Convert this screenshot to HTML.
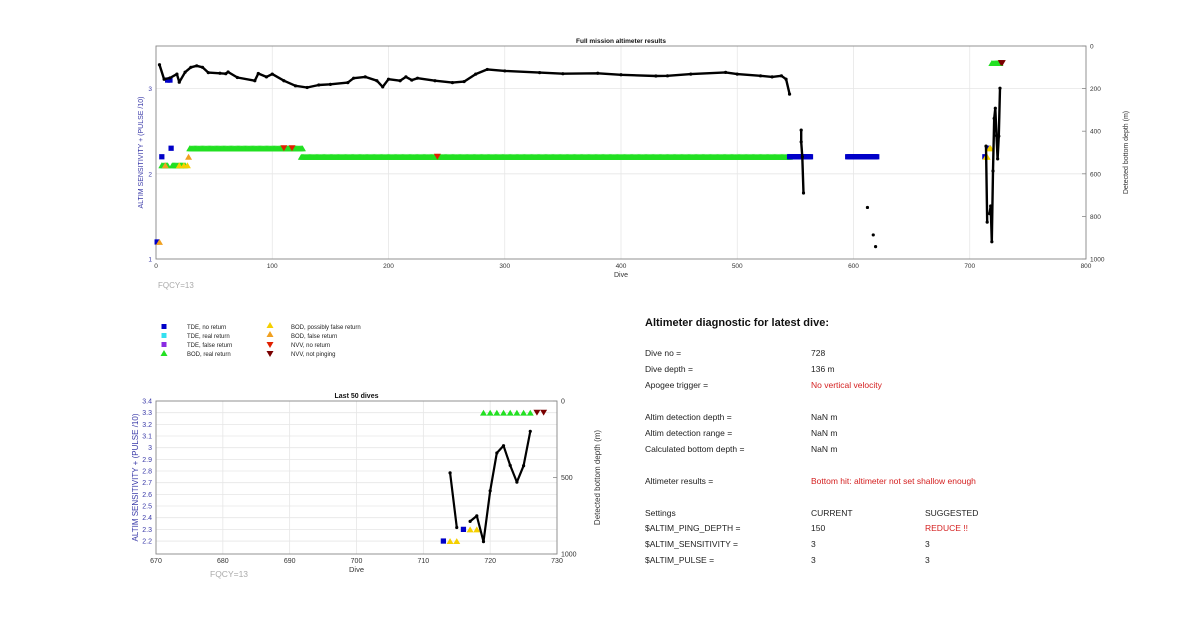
<!DOCTYPE html>
<html><head><meta charset="utf-8"><style>
html,body{margin:0;padding:0;background:#fff;}
svg{display:block;font-family:"Liberation Sans",Arial,sans-serif;}
.t{font-size:8.5px;fill:#222;}
.r{fill:#d42020;}
</style></head><body>
<svg id="fig" width="1200" height="622" viewBox="0 0 1200 622" xmlns="http://www.w3.org/2000/svg">
<g id="top"></g>
<g id="bot"></g>
<g font-size="6" fill="#222">
 <rect x="161.5" y="324" width="5" height="5" fill="#0000c8"/>
 <text x="187" y="329">TDE, no return</text>
 <rect x="161.5" y="333" width="5" height="5" fill="#33e0f0"/>
 <text x="187" y="338">TDE, real return</text>
 <rect x="161.5" y="342" width="5" height="5" fill="#8a2be2"/>
 <text x="187" y="347">TDE, false return</text>
 <polygon points="164,350 167.5,356 160.5,356" fill="#22e022"/>
 <text x="187" y="356">BOD, real return</text>
 <polygon points="270,322 273.5,328 266.5,328" fill="#f5d000"/>
 <text x="291" y="329">BOD, possibly false return</text>
 <polygon points="270,331 273.5,337 266.5,337" fill="#f0a020"/>
 <text x="291" y="338">BOD, false return</text>
 <polygon points="266.5,342 273.5,342 270,348" fill="#e02000"/>
 <text x="291" y="347">NVV, no return</text>
 <polygon points="266.5,351 273.5,351 270,357" fill="#7a0000"/>
 <text x="291" y="356">NVV, not pinging</text>
</g>
<g>
 <text x="645" y="326" font-size="11" font-weight="bold" fill="#111">Altimeter diagnostic for latest dive:</text>
 <text class="t" x="645" y="356">Dive no =</text><text class="t" x="811" y="356">728</text>
 <text class="t" x="645" y="372">Dive depth =</text><text class="t" x="811" y="372">136 m</text>
 <text class="t" x="645" y="388">Apogee trigger =</text><text class="t r" x="811" y="388">No vertical velocity</text>
 <text class="t" x="645" y="420">Altim detection depth =</text><text class="t" x="811" y="420">NaN m</text>
 <text class="t" x="645" y="436">Altim detection range =</text><text class="t" x="811" y="436">NaN m</text>
 <text class="t" x="645" y="452">Calculated bottom depth =</text><text class="t" x="811" y="452">NaN m</text>
 <text class="t" x="645" y="484">Altimeter results =</text><text class="t r" x="811" y="484">Bottom hit: altimeter not set shallow enough</text>
 <text class="t" x="645" y="516">Settings</text><text class="t" x="811" y="516">CURRENT</text><text class="t" x="925" y="516">SUGGESTED</text>
 <text class="t" x="645" y="531">$ALTIM_PING_DEPTH =</text><text class="t" x="811" y="531">150</text><text class="t r" x="925" y="531">REDUCE !!</text>
 <text class="t" x="645" y="547">$ALTIM_SENSITIVITY =</text><text class="t" x="811" y="547">3</text><text class="t" x="925" y="547">3</text>
 <text class="t" x="645" y="563">$ALTIM_PULSE =</text><text class="t" x="811" y="563">3</text><text class="t" x="925" y="563">3</text>
</g>
</svg>
<script>
// ---------- data ----------
const depthDives = [3,7,12,18,20,25,30,35,40,45,55,60,62,70,85,88,95,100,110,120,130,140,150,165,170,180,190,195,200,210,215,220,225,240,255,265,275,285,300,330,350,380,400,430,440,460,490,500,520,530,538,542,545];
const depthVals  = [88,156,150,132,170,123,100,93,100,125,128,130,122,148,163,129,145,132,163,187,195,183,180,172,151,145,163,192,156,163,145,160,151,163,172,167,132,110,117,125,130,128,135,141,140,132,124,132,140,145,140,156,226];
const seg2Dives = [555,555,556,557];
const seg2Vals  = [395,450,520,690];
const isoDives = [612,617,619];
const isoVals  = [758,887,942];
const lastDives = [714,715,716,717,718,719,720,721,722,723,724,725,726];
const lastDepth = [470,827,NaN,787,751,919,587,340,292,421,530,423,198];
const greenRuns = [[5,10,2.1],[14,25,2.1],[29,126,2.3],[125,545,2.2],[719,726,3.3]];
const blueDives = [1,5,10,12,13,713,716];
const blueVals  = [1.2,2.2,3.1,3.1,2.3,2.2,2.3];
const blueRuns = [[545,563,2.2],[595,620,2.2]];
const yellowDives = [20,24,27,714,715,717,718];
const yellowVals  = [2.1,2.1,2.1,2.2,2.2,2.3,2.3];
const orangeDives = [3,8,28];
const orangeVals  = [1.2,2.1,2.2];
const redDives = [110,117,242];
const redVals  = [2.3,2.3,2.2];
const darkRedDives = [727,728];
const darkRedVals  = [3.3,3.3];
const topXTicks = [0,100,200,300,400,500,600,700,800];
const topYTicks = [1,2,3];
const topDTicks = [0,200,400,600,800,1000];
const botXTicks = [670,680,690,700,710,720,730];
const botYTicks = [2.2,2.3,2.4,2.5,2.6,2.7,2.8,2.9,3,3.1,3.2,3.3,3.4];
const botDTicks = [0,500,1000];

const NS='http://www.w3.org/2000/svg';
function mk(par,tag,a){const e=document.createElementNS(NS,tag);for(const k in a)e.setAttribute(k,a[k]);par.appendChild(e);return e;}

function chart(g,o){
  const X=v=>o.x0+(v-o.xmin)/(o.xmax-o.xmin)*(o.x1-o.x0);
  const Y=v=>o.y1-(v-o.ymin)/(o.ymax-o.ymin)*(o.y1-o.y0);
  const D=v=>o.y0+v/1000*(o.y1-o.y0);
  // grid
  o.xt.forEach(t=>{const l=mk(g,'line',{x1:X(t),x2:X(t),y1:o.y0,y2:o.y1,stroke:'#e6e6e6','stroke-width':0.8});
    
    });
  o.yt.forEach(t=>{const l=mk(g,'line',{x1:o.x0,x2:o.x1,y1:Y(t),y2:Y(t),stroke:'#e6e6e6','stroke-width':0.8});
    
    });
  const box=mk(g,'rect',{x:o.x0,y:o.y0,width:o.x1-o.x0,height:o.y1-o.y0,fill:'none',stroke:'#888','stroke-width':0.9});
  
  
  o.xt.forEach(t=>{const e=mk(g,'text',{x:X(t),y:o.y1+9,'font-size':o.fs,'text-anchor':'middle',fill:'#333'});e.textContent=t;
    
    });
  o.ytl.forEach(t=>{const e=mk(g,'text',{x:o.x0-4,y:Y(t)+2.5,'font-size':o.fs,'text-anchor':'end',fill:'#3a3aa8'});e.textContent=t;
    
    });
  o.dt.forEach(t=>{mk(g,'line',{x1:o.x1,x2:o.x1-4,y1:D(t),y2:D(t),stroke:'#888','stroke-width':0.8});
    const e=mk(g,'text',{x:o.x1+4,y:D(t)+2.5,'font-size':o.fs,fill:'#333'});e.textContent=t;
    
    });
  const tt=mk(g,'text',{x:(o.x0+o.x1)/2,y:o.y0-3,'font-size':o.fs,'font-weight':'bold','text-anchor':'middle',fill:'#111'});tt.textContent=o.title;
  
  
  const xl=mk(g,'text',{x:(o.x0+o.x1)/2,y:o.y1+18,'font-size':o.fs+0.5,'text-anchor':'middle',fill:'#333'});xl.textContent='Dive';
  
  
  const ly=(o.y0+o.y1)/2;
  const yl=mk(g,'text',{x:o.ylx,y:ly,'font-size':o.yfs,'text-anchor':'middle',fill:'#3a3aa8',transform:`rotate(-90 ${o.ylx} ${ly})`});yl.textContent='ALTIM SENSITIVITY + (PULSE /10)';
  
  
  if(o.rl){const rl=mk(g,'text',{x:o.rlx,y:ly,'font-size':o.yfs,'text-anchor':'middle',fill:'#333',transform:`rotate(-90 ${o.rlx} ${ly})`});rl.textContent='Detected bottom depth (m)';
    
    }
  const fq=mk(g,'text',{x:o.fqx,y:o.fqy,'font-size':o.fs+1.5,fill:'#aaa'});fq.textContent='FQCY=13';
  
  
  const inX=d=>d>=o.xmin&&d<=o.xmax;
  const s=o.ms;
  function tri(d,v,col,down){if(!inX(d))return;const x=X(d),y=Y(v);
    const p=down?`${x-s},${y-s*0.85} ${x+s},${y-s*0.85} ${x},${y+s*0.85}`:`${x},${y-s*0.85} ${x+s},${y+s*0.85} ${x-s},${y+s*0.85}`;
    const e=mk(g,'polygon',{points:p,fill:col});
    
    }
  function sq(d,v,col){if(!inX(d))return;const e=mk(g,'rect',{x:X(d)-s*0.75,y:Y(v)-s*0.75,width:s*1.5,height:s*1.5,fill:col});
    
    }
  greenRuns.forEach(r=>{for(let d=r[0];d<=r[1];d++)tri(d,r[2],'#22e022',false);});
  blueRuns.forEach(r=>{for(let d=r[0];d<=r[1];d++)sq(d,r[2],'#0000c8');});
  blueDives.forEach((d,i)=>sq(d,blueVals[i],'#0000c8'));
  yellowDives.forEach((d,i)=>tri(d,yellowVals[i],'#f5d000',false));
  orangeDives.forEach((d,i)=>tri(d,orangeVals[i],'#f0a020',false));
  redDives.forEach((d,i)=>tri(d,redVals[i],'#e02000',true));
  darkRedDives.forEach((d,i)=>tri(d,darkRedVals[i],'#7a0000',true));
  // depth lines
  function line(ds,vs,name){let p='',pen=false;
    ds.forEach((d,i)=>{const v=vs[i];if(isNaN(v)||!inX(d)){pen=false;return;}
      p+=(pen?'L':'M')+X(d).toFixed(1)+' '+D(v).toFixed(1)+' ';pen=true;
      const c=mk(g,'circle',{cx:X(d),cy:D(v),r:o.dr,fill:'#000'});
      
      });
    if(p){const e=mk(g,'path',{d:p,fill:'none',stroke:'#000','stroke-width':o.lw,'stroke-linejoin':'round'});
      
      }}
  line(depthDives,depthVals,'depth-line-main');
  line(seg2Dives,seg2Vals,'depth-line-segment');
  isoDives.forEach((d,i)=>line([d],[isoVals[i]],'depth-point-isolated'));
  line(lastDives,lastDepth,'depth-line-last');
}
chart(document.getElementById('top'),{x0:156,x1:1086,y0:46,y1:259,xmin:0,xmax:800,ymin:1,ymax:3.5,
  xt:topXTicks,yt:topYTicks,ytl:topYTicks,dt:topDTicks,fs:6.5,yfs:7,title:'Full mission altimeter results',
  ylx:143,rl:true,rlx:1128,fqx:158,fqy:288,ms:3.5,dr:1.6,lw:2.4});
chart(document.getElementById('bot'),{x0:156,x1:557,y0:401,y1:554,xmin:670,xmax:730,ymin:2.089,ymax:3.4,
  xt:botXTicks,yt:botYTicks,ytl:botYTicks,dt:botDTicks,fs:7,yfs:8,title:'Last 50 dives',
  ylx:138,rl:true,rlx:600,fqx:210,fqy:577,ms:3.5,dr:1.6,lw:2.2});
</script>
</body></html>
